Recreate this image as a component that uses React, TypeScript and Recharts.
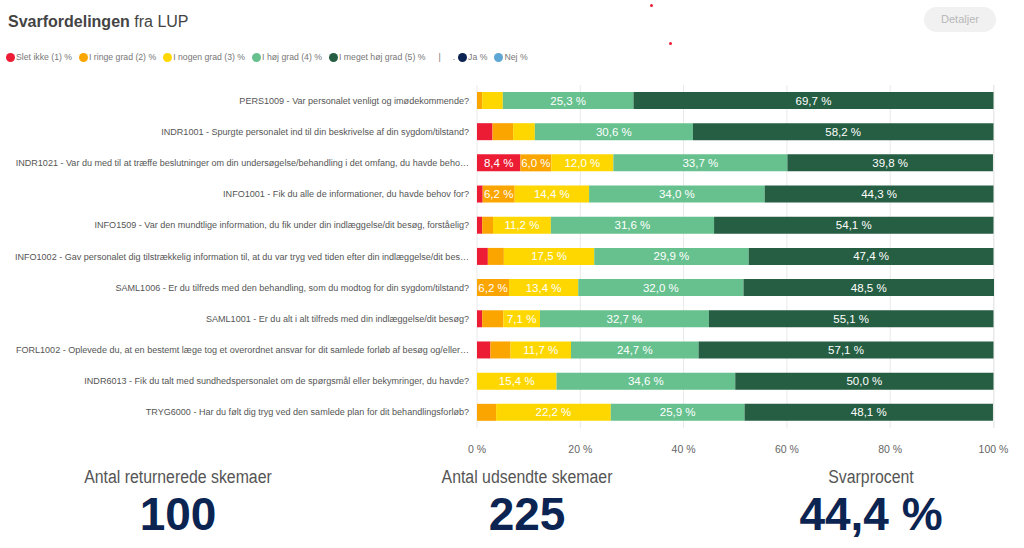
import { BarChart, Bar, XAxis, YAxis, CartesianGrid, LabelList } from "recharts";

const questions = [
  "PERS1009 - Var personalet venligt og imødekommende?",
  "INDR1001 - Spurgte personalet ind til din beskrivelse af din sygdom/tilstand?",
  "INDR1021 - Var du med til at træffe beslutninger om din undersøgelse/behandling i det omfang, du havde beho…",
  "INFO1001 - Fik du alle de informationer, du havde behov for?",
  "INFO1509 - Var den mundtlige information, du fik under din indlæggelse/dit besøg, forståelig?",
  "INFO1002 - Gav personalet dig tilstrækkelig information til, at du var tryg ved tiden efter din indlæggelse/dit bes…",
  "SAML1006 - Er du tilfreds med den behandling, som du modtog for din sygdom/tilstand?",
  "SAML1001 - Er du alt i alt tilfreds med din indlæggelse/dit besøg?",
  "FORL1002 - Oplevede du, at en bestemt læge tog et overordnet ansvar for dit samlede forløb af besøg og/eller…",
  "INDR6013 - Fik du talt med sundhedspersonalet om de spørgsmål eller bekymringer, du havde?",
  "TRYG6000 - Har du følt dig tryg ved den samlede plan for dit behandlingsforløb?",
];

// percent per answer level, same order as questions
const sletIkke = [0, 3.0, 8.4, 1.1, 1.0, 2.1, 0, 1.0, 2.6, 0, 0];
const ringeGrad = [1.0, 4.0, 6.0, 6.2, 2.1, 3.1, 6.2, 4.1, 3.9, 0, 3.7];
const nogenGrad = [4.0, 4.2, 12.0, 14.4, 11.2, 17.5, 13.4, 7.1, 11.7, 15.4, 22.2];
const hojGrad = [25.3, 30.6, 33.7, 34.0, 31.6, 29.9, 32.0, 32.7, 24.7, 34.6, 25.9];
const megetHojGrad = [69.7, 58.2, 39.8, 44.3, 54.1, 47.4, 48.5, 55.1, 57.1, 50.0, 48.1];

const xTicks = [0, 20, 40, 60, 80, 100];

const returnerede = 100;
const udsendte = 225;
const svarprocent = 44.4;

const series = [
  { key: "s1", name: "Slet ikke (1) %", color: "#ec1c35", values: sletIkke },
  { key: "s2", name: "I ringe grad (2) %", color: "#fba500", values: ringeGrad },
  { key: "s3", name: "I nogen grad (3) %", color: "#fed700", values: nogenGrad },
  { key: "s4", name: "I høj grad (4) %", color: "#66c18e", values: hojGrad },
  { key: "s5", name: "I meget høj grad (5) %", color: "#255e42", values: megetHojGrad },
];

const extraLegend = [
  { name: "Ja %", color: "#0c2452" },
  { name: "Nej %", color: "#5ea6d3" },
];

const data = questions.map((q, i) => {
  const row: Record<string, string | number> = { q };
  series.forEach((s) => (row[s.key] = s.values[i]));
  return row;
});

const fmt = (v: number) => v.toFixed(1).replace(".", ",") + " %";

const font = "'Liberation Sans', Arial, sans-serif";

function SegLabel(props: any) {
  const { x, y, width, height, value } = props;
  if (!value || value < 5) return null;
  return (
    <text
      x={x + width / 2}
      y={y + height / 2}
      textAnchor="middle"
      dominantBaseline="central"
      fill="#fff"
      fontSize={11.5}
      fontFamily={font}
    >
      {fmt(value)}
    </text>
  );
}

// single-line question label, right aligned against the plot
function QuestionTick(props: any) {
  const { x, y, payload } = props;
  return (
    <text
      x={x}
      y={y}
      textAnchor="end"
      dominantBaseline="central"
      fill="#555"
      fontSize={9.05}
      fontFamily={font}
    >
      {payload.value}
    </text>
  );
}

function LegendDot({ color, name }: { color: string; name: string }) {
  return (
    <span style={{ display: "inline-flex", alignItems: "center", marginRight: 7 }}>
      <span
        style={{
          width: 9,
          height: 9,
          borderRadius: "50%",
          background: color,
          display: "inline-block",
          marginRight: 1,
        }}
      />
      {name}
    </span>
  );
}

function Stat({ label, value, cx }: { label: string; value: string; cx: number }) {
  return (
    <div style={{ position: "absolute", left: cx - 150, top: 466, width: 300, textAlign: "center" }}>
      <div
        style={{
          fontFamily: font,
          fontSize: 18,
          color: "#555",
          lineHeight: "22px",
          transform: "scaleX(0.88)",
        }}
      >
        {label}
      </div>
      <div
        style={{
          fontFamily: font,
          fontWeight: 700,
          fontSize: 46,
          color: "#0c2452",
          lineHeight: "52px",
        }}
      >
        {value}
      </div>
    </div>
  );
}

export default function App() {
  return (
    <div
      style={{
        position: "absolute",
        left: 0,
        top: 0,
        width: 1024,
        height: 548,
        background: "#fff",
        fontFamily: font,
        overflow: "hidden",
      }}
    >
      <div style={{ position: "absolute", left: 8, top: 13, fontSize: 16, color: "#444" }}>
        <b>Svarfordelingen</b> fra LUP
      </div>
      <div
        style={{
          position: "absolute",
          left: 924,
          top: 7,
          width: 72,
          height: 25,
          borderRadius: 13,
          background: "#f1f1f1",
          color: "#b8b8b8",
          fontSize: 11,
          lineHeight: "25px",
          textAlign: "center",
        }}
      >
        Detaljer
      </div>
      <div style={{ position: "absolute", left: 650, top: 4, width: 3, height: 3, borderRadius: 2, background: "#ec1c35" }} />
      <div style={{ position: "absolute", left: 669, top: 42, width: 3, height: 3, borderRadius: 2, background: "#ec1c35" }} />
      <div
        style={{
          position: "absolute",
          left: 6,
          top: 52,
          fontSize: 8.7,
          color: "#777",
          display: "flex",
          alignItems: "center",
          whiteSpace: "nowrap",
        }}
      >
        {series.map((s) => (
          <LegendDot key={s.key} color={s.color} name={s.name} />
        ))}
        <span style={{ marginLeft: 6, marginRight: 12 }}>|</span>
        <span style={{ marginRight: 3 }}>.</span>
        {extraLegend.map((s) => (
          <LegendDot key={s.name} color={s.color} name={s.name} />
        ))}
      </div>
      <div style={{ position: "absolute", left: 0, top: 0 }}>
        <BarChart
          width={1024}
          height={470}
          data={data}
          layout="vertical"
          margin={{ top: 85, right: 30, bottom: 12, left: 0 }}
          barCategoryGap={7}
        >
          <CartesianGrid vertical horizontal={false} stroke="#e9e9e9" />
          <XAxis
            type="number"
            domain={[0, 100]}
            ticks={xTicks}
            tickFormatter={(v) => v + " %"}
            axisLine={false}
            tickLine={false}
            tickMargin={12}
            height={30}
            tick={{ fill: "#666", fontSize: 10.5, fontFamily: font }}
          />
          <YAxis
            type="category"
            dataKey="q"
            width={477}
            axisLine={false}
            tickLine={false}
            tickMargin={2}
            interval={0}
            tick={QuestionTick}
          />
          {series.map((s) => (
            <Bar key={s.key} dataKey={s.key} stackId="a" fill={s.color} isAnimationActive={false}>
              <LabelList dataKey={s.key} content={SegLabel} />
            </Bar>
          ))}
        </BarChart>
      </div>
      <Stat label="Antal returnerede skemaer" value={String(returnerede)} cx={178} />
      <Stat label="Antal udsendte skemaer" value={String(udsendte)} cx={527} />
      <Stat label="Svarprocent" value={fmt(svarprocent)} cx={871} />
    </div>
  );
}
